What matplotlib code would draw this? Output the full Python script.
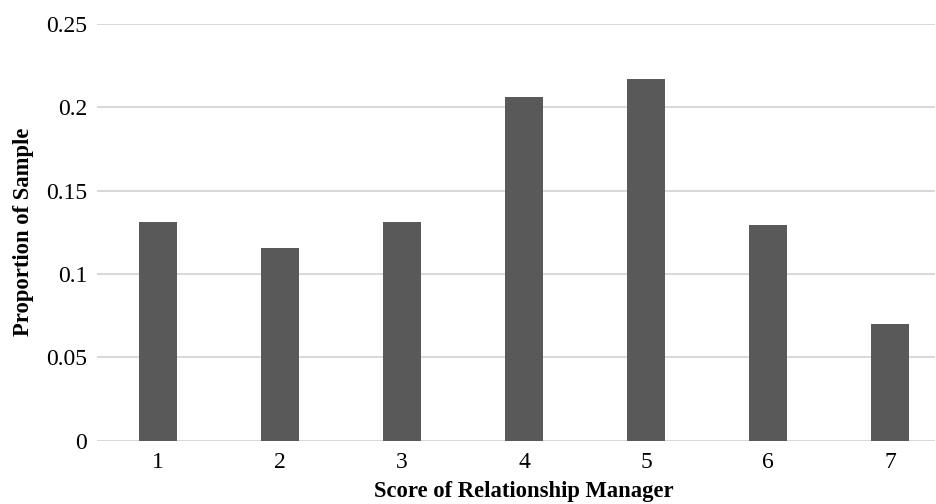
import matplotlib.pyplot as plt

scores = [1, 2, 3, 4, 5, 6, 7]
proportion = [0.131, 0.1156, 0.131, 0.206, 0.217, 0.1294, 0.0702]
y_ticks = [0, 0.05, 0.1, 0.15, 0.2, 0.25]
y_tick_labels = ["0", "0.05", "0.1", "0.15", "0.2", "0.25"]

plt.rcParams['font.family'] = ['Liberation Serif', 'DejaVu Serif']

W, H = 937, 504
fig = plt.figure(figsize=(W / 100, H / 100), dpi=100)
left, right, top, bottom = 97, 935, 24, 440.7
ax = fig.add_axes([left / W, 1 - bottom / H, (right - left) / W, (bottom - top) / H])

ax.bar(scores, proportion, width=0.316, color='#595959', zorder=3)

ax.set_xlim(0.5, 0.5 + (right - left) / 122)
ax.set_ylim(0, 0.25)
ax.set_yticks(y_ticks)
ax.set_yticklabels(y_tick_labels)
ax.set_xticks(scores)
ax.set_xticklabels([str(s) for s in scores])
ax.tick_params(axis='both', length=0, labelsize=17, colors='#000000')
ax.tick_params(axis='y', pad=7)
ax.tick_params(axis='x', pad=8)

ax.grid(axis='y', color='#d9d9d9', linewidth=1.5, zorder=0)
for s in ax.spines.values():
    s.set_visible(False)

fig.text(524 / W, 1 - 491 / H, 'Score of Relationship Manager', ha='center', va='center',
         fontsize=16.3, fontweight='bold')
fig.text(24 / W, 1 - 232 / H, 'Proportion of Sample', ha='center', va='center',
         rotation=90, fontsize=16.3, fontweight='bold')

fig.savefig('out.png', dpi=100)
